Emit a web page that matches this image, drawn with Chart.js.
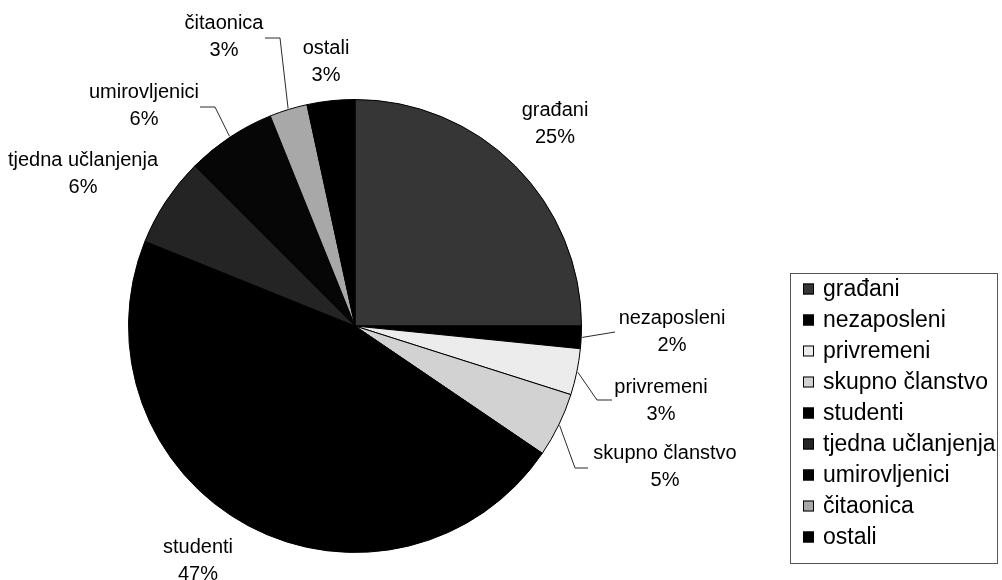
<!DOCTYPE html>
<html>
<head>
<meta charset="utf-8">
<script src="https://cdn.jsdelivr.net/npm/chart.js@4.4.1/dist/chart.umd.min.js"></script>
<style>
  html, body { margin: 0; padding: 0; background: #ffffff; }
  #wrap { width: 1002px; height: 580px; position: relative; }
</style>
</head>
<body>
<div id="wrap"><canvas id="c" width="1002" height="580"></canvas></div>
<script>
// ---- data ----
const categories = ["građani", "nezaposleni", "privremeni", "skupno članstvo", "studenti",
                    "tjedna učlanjenja", "umirovljenici", "čitaonica", "ostali"];
const shares = [25.0, 1.6, 3.3, 4.6, 46.6, 6.4, 6.4, 2.7, 3.4];

// ---- styles ----
const sliceColors = ["#363636", "#000000", "#ececec", "#d2d2d2", "#000000",
                     "#242424", "#060606", "#a8a8a8", "#000000"];
const FONT = "'Liberation Sans', Arial, sans-serif";

// label placement (text centre of name line, leader elbow points)
const labelPlacement = [
  { x: 555, y: 110, leader: null },
  { x: 672, y: 318, leader: [[615, 332]] },
  { x: 661, y: 387, leader: [[597, 400], [612, 400]] },
  { x: 665, y: 453, leader: [[575, 468], [588, 468]] },
  { x: 198, y: 547, leader: null },
  { x: 83,  y: 160, leader: null },
  { x: 144, y: 92,  leader: [[215, 107], [200, 107]] },
  { x: 224, y: 23,  leader: [[280, 38], [265, 38]] },
  { x: 326, y: 48,  leader: null }
];

const pieLabels = {
  id: 'pieLabels',
  afterDatasetsDraw(chart) {
    const ctx = chart.ctx;
    const meta = chart.getDatasetMeta(0);
    const data = chart.data.datasets[0].data;
    const total = data.reduce((a, b) => a + b, 0);
    ctx.save();
    meta.data.forEach((arc, i) => {
      const p = labelPlacement[i];
      const mid = (arc.startAngle + arc.endAngle) / 2;
      if (p.leader) {
        const r = arc.outerRadius + 1;
        ctx.beginPath();
        ctx.strokeStyle = '#2a2a2a';
        ctx.lineWidth = 1;
        ctx.moveTo(arc.x + Math.cos(mid) * r, arc.y + Math.sin(mid) * r);
        p.leader.forEach(pt => ctx.lineTo(pt[0], pt[1]));
        ctx.stroke();
      }
      ctx.fillStyle = '#000';
      ctx.font = '20px ' + FONT;
      ctx.textAlign = 'center';
      ctx.textBaseline = 'middle';
      ctx.fillText(chart.data.labels[i], p.x, p.y);
      ctx.fillText(Math.round(data[i] / total * 100 + 1e-9) + '%', p.x, p.y + 27);
    });
    ctx.restore();
  }
};

const boxLegend = {
  id: 'boxLegend',
  afterDraw(chart) {
    const ctx = chart.ctx;
    const left = 790, top = 273, right = 997, bottom = 563;
    ctx.save();
    ctx.strokeStyle = '#555';
    ctx.lineWidth = 1;
    ctx.strokeRect(left + 0.5, top + 0.5, right - left, bottom - top);
    ctx.font = '23px ' + FONT;
    ctx.textBaseline = 'middle';
    ctx.textAlign = 'left';
    chart.data.labels.forEach((lab, i) => {
      const y = 289 + i * 31;
      ctx.fillStyle = chart.data.datasets[0].backgroundColor[i];
      ctx.fillRect(803, y - 5.5, 11, 11);
      ctx.strokeStyle = '#000';
      ctx.strokeRect(803.5, y - 5, 10, 10);
      ctx.fillStyle = '#000';
      ctx.fillText(lab, 823, y + 1);
    });
    ctx.restore();
  }
};

new Chart(document.getElementById('c'), {
  type: 'pie',
  data: {
    labels: categories,
    datasets: [{
      data: shares,
      backgroundColor: sliceColors,
      borderColor: '#000000',
      borderWidth: 1
    }]
  },
  options: {
    responsive: false,
    animation: false,
    layout: { padding: { top: 99, bottom: 27, left: 128, right: 420 } },
    plugins: {
      legend: { display: false },
      tooltip: { enabled: false }
    }
  },
  plugins: [pieLabels, boxLegend]
});
</script>
</body>
</html>
